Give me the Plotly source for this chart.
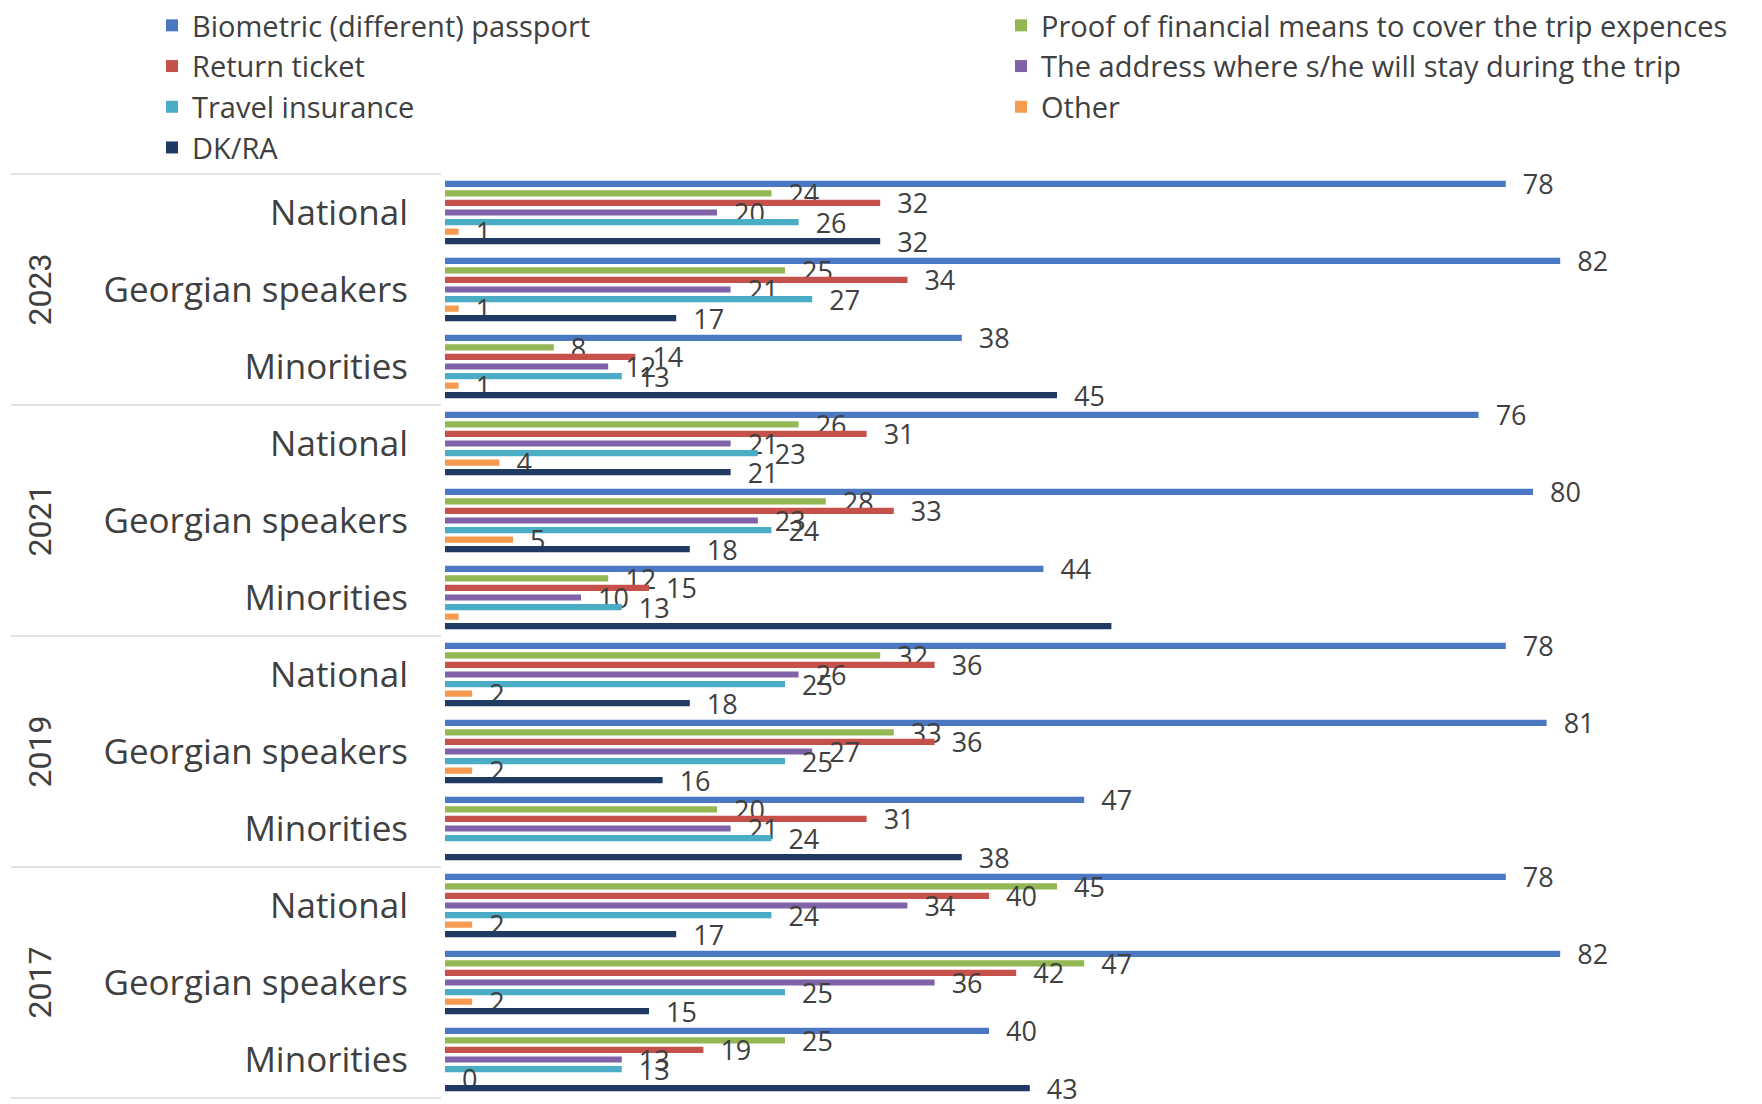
import plotly.graph_objects as go

# ---------------- data ----------------
years = ["2023", "2021", "2019", "2017"]
groups = ["National", "Georgian speakers", "Minorities"]

series_names = [
    "Biometric (different) passport",
    "Proof of financial means to cover the trip expences",
    "Return ticket",
    "The address where s/he will stay during the trip",
    "Travel insurance",
    "Other",
    "DK/RA",
]

# values in year-major order: 2023 (Nat, Geo, Min), 2021 (...), 2019 (...), 2017 (...)
biometric = [78, 82, 38, 76, 80, 44, 78, 81, 47, 78, 82, 40]
proof_financial = [24, 25, 8, 26, 28, 12, 32, 33, 20, 45, 47, 25]
return_ticket = [32, 34, 14, 31, 33, 15, 36, 36, 31, 40, 42, 19]
address = [20, 21, 12, 21, 23, 10, 26, 27, 21, 34, 36, 13]
travel_insurance = [26, 27, 13, 23, 24, 13, 25, 25, 24, 24, 25, 13]
other = [1, 1, 1, 4, 5, 1, 2, 2, None, 2, 2, 0]
dk_ra = [32, 17, 45, 21, 18, 49, 18, 16, 38, 17, 15, 43]

series_values = [biometric, proof_financial, return_ticket, address,
                 travel_insurance, other, dk_ra]

# data labels that are not shown in the original
unlabeled = {("2021", "Minorities", "Other"),
             ("2021", "Minorities", "DK/RA"),
             ("2019", "Minorities", "Other")}

# ---------------- styling ----------------
colors = ["#4A78C2", "#93B752", "#C6504A", "#7F62A8", "#4BACC6", "#F59A4E", "#1F3B63"]
legend_of = ["legend", "legend2", "legend", "legend2", "legend", "legend2", "legend"]
txt_color = "#404040"
FONT = "Open Sans"

W, H = 1762, 1104
ML, MR, MT, MB = 445, 0, 174, 6
PW = W - ML - MR
PH = H - MT - MB
PX_PER_UNIT = 13.6

rows = [(y, g) for y in years for g in groups]
ypos = list(range(len(rows)))

fig = go.Figure()
for name, vals, col, lg in zip(series_names, series_values, colors, legend_of):
    texts = []
    for (yr, grp), v in zip(rows, vals):
        if v is None or (yr, grp, name) in unlabeled:
            texts.append("")
        else:
            texts.append("\u00a0\u00a0" + str(v))
    fig.add_trace(go.Bar(
        name=name,
        x=vals,
        y=ypos,
        orientation="h",
        marker=dict(color=col, line=dict(width=0)),
        text=texts,
        textposition="outside",
        textfont=dict(family=FONT, size=27, color=txt_color),
        constraintext="none",
        cliponaxis=False,
        legend=lg,
        hoverinfo="x+name",
    ))

# separators in the label area
shapes = []
for k in range(len(years) + 1):
    yy = 1 - k / len(years)
    shapes.append(dict(type="line", xref="paper", yref="paper",
                       x0=(11 - ML) / PW, x1=(441 - ML) / PW, y0=yy, y1=yy,
                       line=dict(color="#D9D9D9", width=1.5)))

annotations = []
for k, yr in enumerate(years):
    annotations.append(dict(
        text=yr, xref="paper", yref="paper",
        x=(39 - ML) / PW, y=1 - (k + 0.5) / len(years),
        xanchor="center", yanchor="middle", textangle=-90, showarrow=False,
        font=dict(family="Roboto", size=32, color=txt_color)))

legend_font = dict(family=FONT, size=29, color=txt_color)
fig.update_layout(
    width=W, height=H,
    margin=dict(l=ML, r=MR, t=MT, b=MB, pad=0),
    paper_bgcolor="white", plot_bgcolor="white",
    barmode="group", bargap=0.13, bargroupgap=0.35,
    font=dict(family=FONT, color=txt_color),
    xaxis=dict(range=[0, PW / PX_PER_UNIT], visible=False, fixedrange=True),
    yaxis=dict(range=[len(rows) - 0.5, -0.5], tickvals=ypos,
               ticktext=[g for _, g in rows], ticks="", showline=False,
               showgrid=False, zeroline=False, ticklabelstandoff=36,
               tickfont=dict(family=FONT, size=35, color=txt_color)),
    legend=dict(x=(152 - ML) / PW, y=(H - MB) / PH, xanchor="left", yanchor="top",
                orientation="v", font=legend_font,
                bgcolor="rgba(0,0,0,0)", itemclick=False, itemdoubleclick=False),
    legend2=dict(x=(1001 - ML) / PW, y=(H - MB) / PH, xanchor="left", yanchor="top",
                 orientation="v", font=legend_font,
                 bgcolor="rgba(0,0,0,0)", itemclick=False, itemdoubleclick=False),
    shapes=shapes,
    annotations=annotations,
    showlegend=True,
)

fig.write_html("out.html", config={"displayModeBar": False},
               post_script="document.body.style.margin='0';")
